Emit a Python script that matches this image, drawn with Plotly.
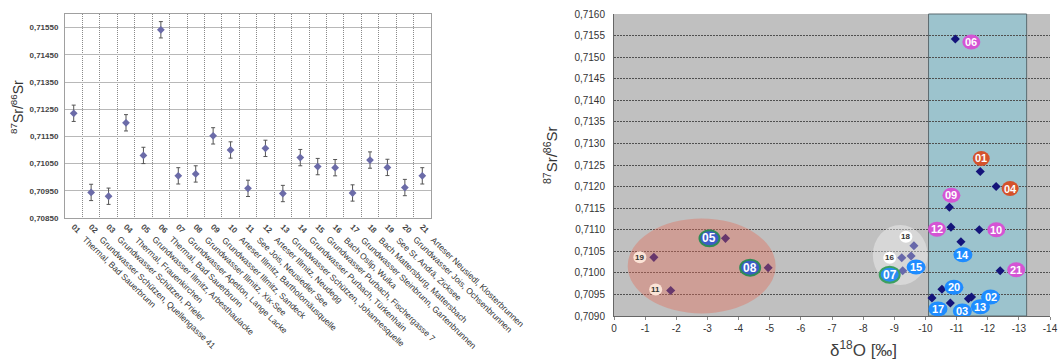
import plotly.graph_objects as go

# ---------------- data ----------------
sample_ids = ["01", "02", "03", "04", "05", "06", "07", "08", "09", "10", "11",
              "12", "13", "14", "15", "16", "17", "18", "19", "20", "21"]
sample_names = [
    "Thermal, Bad Sauerbrunn",
    "Grundwasser Schützen, Quellengasse 41",
    "Grundwasser Schützen, Prieler",
    "Thermal, Frauenkirchen",
    "Grundwasser Illmitz, Arbesthaulacke",
    "Thermal, Bad Sauerbrunn",
    "Grundwasser Apetlon, Lange Lacke",
    "Grundwasser Illmitz, Xix-See",
    "Grundwasser Illmitz, Sandeck",
    "Arteser Illmitz, Bartholomäusquelle",
    "See Jois, Neusiedler See",
    "Arteser Illmitz, Neudegg",
    "Grundwasser Schützen, Johannesquelle",
    "Grundwasser Purbach, Türkenhain",
    "Grundwasser Purbach, Fischergasse 7",
    "Bach Oslip, Wulka",
    "Grundwasser Steinbrunn, Gartenbrunnen",
    "Bach Mattersburg, Mattersbach",
    "See St. Andrä, Zicksee",
    "Grundwasser Jois, Ochsenbrunnen",
    "Arteser Neusiedl, Klosterbrunnen",
]
sr_ratio = [0.71235, 0.70944, 0.70930, 0.71200, 0.71080, 0.71542, 0.71005,
            0.71012, 0.71152, 0.71100, 0.70959, 0.71106, 0.70940, 0.71072,
            0.71039, 0.71035, 0.70942, 0.71063, 0.71036, 0.70962, 0.71005]
sr_error = [0.0003, 0.0003, 0.0003, 0.0003, 0.0003, 0.0003, 0.0003,
            0.0003, 0.0003, 0.0003, 0.0003, 0.0003, 0.0003, 0.0003,
            0.0003, 0.0003, 0.0003, 0.0003, 0.0003, 0.0003, 0.0003]
d18o = [-11.76, -11.48, -10.80, -12.27, -3.58, -10.96, -9.27, -4.95, -10.77,
        -11.73, -1.82, -10.82, -11.38, -11.14, -9.54, -9.24, -10.21, -9.63,
        -1.28, -10.53, -12.40]

left_yticks = [0.7085, 0.7095, 0.7105, 0.7115, 0.7125, 0.7135, 0.7145, 0.7155]
right_xticks = [0, -1, -2, -3, -4, -5, -6, -7, -8, -9, -10, -11, -12, -13, -14]
right_yticks = [0.7090, 0.7095, 0.7100, 0.7105, 0.7110, 0.7115, 0.7120, 0.7125,
                0.7130, 0.7135, 0.7140, 0.7145, 0.7150, 0.7155, 0.7160]

# highlighted regions (data units)
teal_band = (-10.1, -13.25)
red_group = (-0.44, -5.19, 0.70906, 0.71126)
white_group = (-8.31, -10.07, 0.70972, 0.71111)

# ---------------- styles ----------------
W, H = 1059, 360
FONT = "Arial, Liberation Sans, sans-serif"

label_styles = {
    "navy":    dict(fill="#3B5CC6", line="#2E8B57", lw=2, w=20, h=16, tc="white", ts=12),
    "blue07":  dict(fill="#2A8CF0", line="#3CA060", lw=2, w=20, h=16, tc="white", ts=12),
    "blue":    dict(fill="#1E8CFF", line="#1E8CFF", lw=0, w=19, h=15, tc="white", ts=11),
    "magenta": dict(fill="#D454D4", line="#D454D4", lw=0, w=18, h=15, tc="white", ts=11),
    "orange":  dict(fill="#D4522C", line="#D4522C", lw=0, w=17, h=15, tc="white", ts=11),
    "pink":    dict(fill="#FBE3D6", line="#FBE3D6", lw=0, w=13, h=12, tc="#333333", ts=8),
    "white":   dict(fill="#FFFFFF", line="#FFFFFF", lw=0, w=13, h=12, tc="#333333", ts=8),
}
# style name, pixel offset (dx right, dy down) of label centre from point
label_look = {
    "01": ("orange", 1, -13), "02": ("blue", 19, 0), "03": ("blue", 12, 8),
    "04": ("orange", 14, 2), "05": ("navy", -16, 0), "06": ("magenta", 16, 3),
    "07": ("blue07", -13, 4), "08": ("navy", -18, 0), "09": ("magenta", 2, -12),
    "10": ("magenta", 17, 0), "11": ("pink", -15, -1), "12": ("magenta", -14, 2),
    "13": ("blue", 12, 8), "14": ("blue", 2, 13), "15": ("blue", 5, 11),
    "16": ("white", -12, 0), "17": ("blue", 6, 11), "18": ("white", -8, -9),
    "19": ("pink", -14, 0), "20": ("blue", 12, -2), "21": ("magenta", 16, -1),
}

fig = go.Figure()

# left panel: Sr ratio per sample with error bars
fig.add_trace(go.Scatter(
    x=sample_ids, y=sr_ratio, mode="markers",
    marker=dict(symbol="diamond", size=6, color="#6B6BA8"),
    error_y=dict(type="data", array=sr_error, visible=True, color="#555555",
                 thickness=1, width=2),
    xaxis="x", yaxis="y", showlegend=False, hoverinfo="skip"))

# right panel: d18O vs Sr
fig.add_trace(go.Scatter(
    x=d18o, y=sr_ratio, mode="markers",
    marker=dict(symbol="diamond", size=7, color="#14147A"),
    xaxis="x2", yaxis="y2", showlegend=False, hoverinfo="skip"))

shapes = []
shapes.append(dict(type="rect", xref="x2 domain", yref="y2 domain", x0=0, x1=1,
                   y0=0, y1=1, fillcolor="#C0C0C0", line=dict(width=0), layer="below"))
shapes.append(dict(type="rect", xref="x2", yref="y2 domain", x0=teal_band[0],
                   x1=teal_band[1], y0=0, y1=1, fillcolor="#9CC3CD",
                   line=dict(color="#5B6B70", width=1), layer="below"))
shapes.append(dict(type="circle", xref="x2", yref="y2", x0=red_group[0], x1=red_group[1],
                   y0=red_group[2], y1=red_group[3], fillcolor="rgba(228,108,88,0.40)",
                   line=dict(width=0), layer="above"))
shapes.append(dict(type="circle", xref="x2", yref="y2", x0=white_group[0],
                   x1=white_group[1], y0=white_group[2], y1=white_group[3],
                   fillcolor="rgba(255,255,255,0.36)", line=dict(width=0), layer="above"))

annotations = []
for sid, xv, yv in zip(sample_ids, d18o, sr_ratio):
    sname, dx, dy = label_look[sid]
    st = label_styles[sname]
    shapes.append(dict(
        type="circle", xref="x2", yref="y2", layer="above",
        xsizemode="pixel", ysizemode="pixel", xanchor=xv, yanchor=yv,
        x0=dx - st["w"] / 2, x1=dx + st["w"] / 2,
        y0=-dy - st["h"] / 2, y1=-dy + st["h"] / 2,
        fillcolor=st["fill"],
        line=dict(color=st["line"], width=st["lw"])))
    annotations.append(dict(
        x=xv, y=yv, xref="x2", yref="y2", text=sid, showarrow=False,
        xshift=dx, yshift=-dy, xanchor="center", yanchor="middle",
        font=dict(family=FONT, size=st["ts"], color=st["tc"], weight="bold")))

# long sample names under the left axis (category index positions)
for idx, nm in enumerate(sample_names):
    annotations.append(dict(
        x=idx, y=(H - 232) / H, xref="x", yref="paper", text=nm, showarrow=False,
        xanchor="left", yanchor="top", xshift=4, textangle=44,
        font=dict(family=FONT, size=8.5, color="#333333")))

# axis titles
annotations.append(dict(x=17 / W, y=(H - 107) / H, xref="paper", yref="paper",
                        xanchor="center", yanchor="middle",
                        text="<sup>87</sup>Sr/<sup>86</sup>Sr", showarrow=False,
                        textangle=-90, font=dict(family=FONT, size=14, color="#333333")))
annotations.append(dict(x=550 / W, y=(H - 155) / H, xref="paper", yref="paper",
                        xanchor="center", yanchor="middle",
                        text="<sup>87</sup>Sr/<sup>86</sup>Sr", showarrow=False,
                        textangle=-90, font=dict(family=FONT, size=15, color="#333333")))
annotations.append(dict(x=863 / W, y=(H - 349) / H, xref="paper", yref="paper",
                        xanchor="center", yanchor="middle",
                        text="δ<sup>18</sup>O [‰]", showarrow=False,
                        font=dict(family=FONT, size=17, color="#404040")))

fig.update_layout(
    width=W, height=H, margin=dict(l=0, r=0, t=0, b=0),
    paper_bgcolor="white", plot_bgcolor="white",
    separators=", ",
    shapes=shapes, annotations=annotations,
    xaxis=dict(domain=[65 / W, 431 / W], type="category", anchor="y",
               range=[-0.5, len(sample_ids) - 0.5], autorange=False,
               tickson="boundaries", showgrid=True, gridcolor="#8A8A8A",
               griddash="1px,1px", gridwidth=1, showline=True, linecolor="#A0A0A0",
               mirror=True, ticks="", tickangle=45, automargin=False,
               tickfont=dict(family=FONT, size=8, color="#444444", weight="bold")),
    yaxis=dict(domain=[(H - 218) / H, (H - 14) / H], anchor="x",
               range=[0.7085, 0.7160], autorange=False, tickvals=left_yticks,
               tickformat=".5f",
               showgrid=True, gridcolor="#B8B8B8", gridwidth=1, showline=True,
               linecolor="#A0A0A0", mirror=True, ticks="", zeroline=False,
               automargin=False, ticklabelstandoff=4,
               tickfont=dict(family=FONT, size=8, color="#444444", weight="bold")),
    xaxis2=dict(domain=[614 / W, 1050 / W], anchor="y2", range=[0, -14],
                autorange=False,
                tickvals=right_xticks, ticktext=[f"{v:g}" for v in right_xticks],
                showgrid=False, zeroline=False, showline=True, linecolor="#666666",
                ticks="outside", ticklen=3, tickcolor="#888888", automargin=False,
                tickfont=dict(family=FONT, size=10, color="#333333")),
    yaxis2=dict(domain=[(H - 316) / H, (H - 14) / H], anchor="x2",
                range=[0.7090, 0.7160], autorange=False, tickvals=right_yticks,
                tickformat=".4f",
                showgrid=True, gridcolor="#505050", griddash="2px,1px", gridwidth=1,
                zeroline=False, showline=True, linecolor="#666666", ticks="",
                automargin=False, ticklabelstandoff=6,
                tickfont=dict(family=FONT, size=10, color="#333333")),
)

fig.write_html("out.html", config={"displayModeBar": False},
               post_script="document.body.style.margin='0';")
